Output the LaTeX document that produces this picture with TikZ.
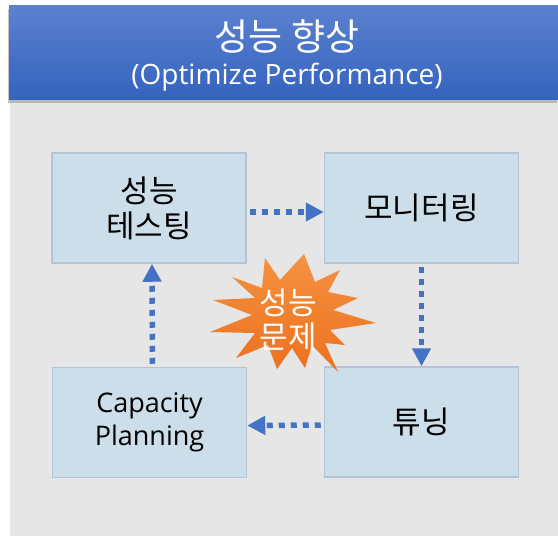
\documentclass[tikz,border=0pt]{standalone}
\usepackage{fontspec}
\setmainfont{Open Sans}
\newfontfamily\kr{Noto Sans CJK KR}
\usetikzlibrary{arrows.meta,shadows}
\definecolor{barTop}{RGB}{92,129,208}
\definecolor{barBot}{RGB}{52,99,190}
\definecolor{panelGray}{RGB}{230,230,230}
\definecolor{boxFill}{RGB}{204,222,234}
\definecolor{boxLine}{RGB}{180,195,214}
\definecolor{flowBlue}{RGB}{68,114,196}
\definecolor{burstLight}{RGB}{245,146,66}
\definecolor{burstDark}{RGB}{236,113,30}
\tikzset{
  stagebox/.style={draw=boxLine,line width=1.5pt,fill=boxFill,minimum width=194pt,minimum height=110pt,inner sep=0pt,align=center,text=black},
  flowarrow/.style={draw=flowBlue,line width=5.5pt,dash pattern=on 6pt off 6pt,-{Triangle[length=18pt,width=18pt]},shorten <=3pt}
}
\begin{document}
\begin{tikzpicture}[x=1pt,y=-1pt]
\useasboundingbox (0,0) rectangle (558,536);
\fill[white] (0,0) rectangle (558,536);
\fill[panelGray] (10,99) rectangle (558,536);
% title bar
\shade[top color=barTop,bottom color=barBot,drop shadow={shadow xshift=-1pt,shadow yshift=-4pt,opacity=.45}] (9,5) rectangle (558,99);
\node[text=white,font=\kr\fontsize{37}{40}\selectfont,name=title] at (287,36){성능 향상};
\node[text=white,font=\fontsize{28}{31}\selectfont,name=subtitle] at (287,77){(Optimize Performance)};
% the four stages
\node[stagebox,font=\kr\fontsize{31}{35}\selectfont,name=test] at (149,208){성능\\테스팅};
\node[stagebox,font=\kr\fontsize{31}{35}\selectfont,name=monitor] at (421.5,208){모니터링};
\node[stagebox,font=\kr\fontsize{31}{35}\selectfont,name=tune] at (421.5,422){튜닝};
\node[stagebox,font=\fontsize{27}{33}\selectfont,name=capacity] at (149.5,422.5){Capacity\\Planning};
% burst in the middle
\begin{scope}[shift={(292,315)}]
\shade[top color=burstLight,bottom color=burstDark]
  (-27,-57) -- (-12,-35) -- (12,-61) -- (23,-33) -- (48,-45) -- (36,-23) -- (66,-17) -- (41,-5)
  -- (84,8) -- (38,15) -- (53,30) -- (33,28) -- (46,57) -- (20,30) -- (13,53) -- (0,33)
  -- (-15,54) -- (-24,30) -- (-56,43) -- (-37,18) -- (-82,17) -- (-40,0) -- (-79,-15)
  -- (-37,-17) -- (-60,-38) -- (-30,-27) -- cycle;
\end{scope}
\node[text=white,align=center,font=\kr\fontsize{31}{34}\selectfont,name=issue] at (288,320){성능\\문제};
% cycle
\draw[flowarrow] ([yshift=-4pt]test.east) -- ([yshift=-4pt]monitor.west);
\draw[flowarrow] (monitor.south) -- (tune.north);
\draw[flowarrow] ([yshift=-3pt]tune.west) -- ([yshift=-3pt]capacity.east);
\draw[flowarrow] ([xshift=3pt]capacity.north) -- ([xshift=3pt]test.south);
\end{tikzpicture}
\end{document}
